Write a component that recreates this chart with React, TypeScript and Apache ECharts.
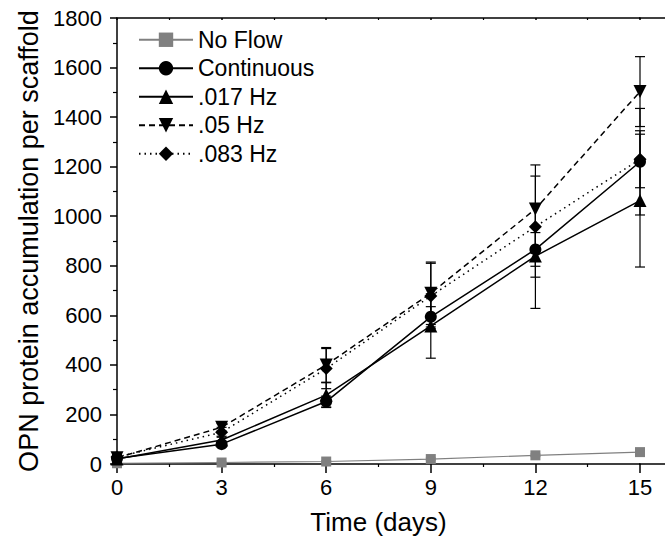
import React, { useEffect, useRef } from "react";
import * as echarts from "echarts";

const days = [0, 3, 6, 9, 12, 15];
const xTicks = ["0", "3", "6", "9", "12", "15"];

const noFlow = [3, 6, 10, 20, 35, 48];
const noFlowErr = [2, 2, 3, 4, 5, 6];
const continuous = [22, 80, 252, 594, 866, 1220];
const continuousErr = [8, 12, 22, 41, 68, 215];
const hz017 = [20, 97, 278, 557, 839, 1063];
const hz017Err = [8, 15, 50, 130, 211, 268];
const hz05 = [25, 148, 400, 689, 1029, 1503];
const hz05Err = [10, 15, 70, 126, 178, 141];
const hz083 = [28, 128, 385, 678, 958, 1230];
const hz083Err = [10, 20, 81, 132, 204, 115];

const FONT = "Liberation Sans, Arial, sans-serif";
const GRID_LEFT = 117;
const GRID_TOP = 18;
const GRID_RIGHT = 25;
const GRID_BOTTOM = 84;
const W = 665;
const H = 548;

type Spec = {
  name: string;
  values: number[];
  errs: number[];
  symbol: string;
  size: number;
  color: string;
  lineType: any;
  lineWidth: number;
  rotate?: number;
};

const specs: Spec[] = [
  { name: "No Flow", values: noFlow, errs: noFlowErr, symbol: "rect", size: 10, color: "#808080", lineType: "solid", lineWidth: 1.2 },
  { name: "Continuous", values: continuous, errs: continuousErr, symbol: "circle", size: 12, color: "#000000", lineType: "solid", lineWidth: 1.5 },
  { name: ".017 Hz", values: hz017, errs: hz017Err, symbol: "triangle", size: 13, color: "#000000", lineType: "solid", lineWidth: 1.5 },
  { name: ".05 Hz", values: hz05, errs: hz05Err, symbol: "triangle", size: 13, color: "#000000", lineType: [6, 4], lineWidth: 1.5, rotate: 180 },
  { name: ".083 Hz", values: hz083, errs: hz083Err, symbol: "diamond", size: 13, color: "#000000", lineType: [1.5, 4], lineWidth: 1.5 },
];

export default function App() {
  const ref = useRef<HTMLDivElement>(null);
  useEffect(() => {
    if (!ref.current) return;
    const chart = echarts.init(ref.current, undefined, { renderer: "svg" });

    const series: any[] = [];
    specs.forEach((s) => {
      series.push({
        name: "err " + s.name,
        type: "custom",
        z: 1,
        silent: true,
        data: days.map((d, i) => [d, s.values[i], s.errs[i]]),
        renderItem: (params: any, api: any) => {
          const x = api.value(0);
          const y = api.value(1);
          const e = api.value(2);
          const hi = api.coord([x, y + e]);
          const lo = api.coord([x, y - e]);
          const half = 5;
          const st = { stroke: s.color, lineWidth: 1.2 };
          return {
            type: "group",
            children: [
              { type: "line", shape: { x1: hi[0], y1: hi[1], x2: lo[0], y2: lo[1] }, style: st },
              { type: "line", shape: { x1: hi[0] - half, y1: hi[1], x2: hi[0] + half, y2: hi[1] }, style: st },
              { type: "line", shape: { x1: lo[0] - half, y1: lo[1], x2: lo[0] + half, y2: lo[1] }, style: st },
            ],
          };
        },
      });
    });
    specs.forEach((s) => {
      series.push({
        name: s.name,
        type: "line",
        z: 3,
        data: days.map((d, i) => [d, s.values[i]]),
        symbol: s.symbol,
        symbolSize: s.size,
        symbolRotate: s.rotate || 0,
        showAllSymbol: true,
        lineStyle: { color: s.color, width: s.lineWidth, type: s.lineType },
        itemStyle: { color: s.color, borderWidth: 0 },
      });
    });

    const gridRightX = W - GRID_RIGHT;
    const gridBottomY = H - GRID_BOTTOM;

    chart.setOption({
      animation: false,
      backgroundColor: "#ffffff",
      grid: { left: GRID_LEFT, top: GRID_TOP, right: GRID_RIGHT, bottom: GRID_BOTTOM },
      legend: {
        show: true,
        data: specs.map((s) => s.name),
        orient: "vertical",
        left: 138,
        top: 28,
        padding: 0,
        itemWidth: 54,
        itemHeight: 18,
        itemGap: 5,
        textStyle: { fontFamily: FONT, fontSize: 23, color: "#000", lineHeight: 23.5, padding: [0, 0, 0, 0] },
        selectedMode: false,
      },
      xAxis: [
        {
          type: "value",
          min: 0,
          max: 15,
          interval: 3,
          position: "bottom",
          name: "Time (days)",
          nameLocation: "middle",
          nameGap: 45,
          nameTextStyle: { fontFamily: FONT, fontSize: 26, color: "#000" },
          axisLine: { show: true, lineStyle: { color: "#000", width: 1.5 } },
          axisTick: { show: true, inside: false, length: 9, lineStyle: { color: "#000", width: 1.5 } },
          minorTick: { show: true, splitNumber: 2, length: 3, lineStyle: { color: "#000", width: 1.2 } },
          axisLabel: {
            fontFamily: FONT,
            fontSize: 22,
            color: "#000",
            margin: 12,
            formatter: (v: number) => {
              const i = days.indexOf(v);
              return i >= 0 ? xTicks[i] : "";
            },
          },
          splitLine: { show: false },
        },
        {
          type: "value",
          min: 0,
          max: 15,
          interval: 3,
          position: "top",
          axisLine: { show: true, lineStyle: { color: "#000", width: 1.5 } },
          axisTick: { show: true, inside: true, length: 2, lineStyle: { color: "#000", width: 1.5 } },
          minorTick: { show: true, splitNumber: 2, length: 2, lineStyle: { color: "#000", width: 1.2 } },
          axisLabel: { show: false },
          splitLine: { show: false },
        },
      ],
      yAxis: [
        {
          type: "value",
          min: 0,
          max: 1800,
          interval: 200,
          name: "OPN protein accumulation per scaffold",
          nameLocation: "middle",
          nameGap: 71,
          nameTextStyle: { fontFamily: FONT, fontSize: 27, color: "#000" },
          axisLine: { show: true, lineStyle: { color: "#000", width: 1.5 } },
          axisTick: { show: true, inside: false, length: 7, lineStyle: { color: "#000", width: 1.5 } },
          minorTick: { show: true, splitNumber: 2, length: 4, lineStyle: { color: "#000", width: 1.2 } },
          axisLabel: {
            fontFamily: FONT,
            fontSize: 22,
            color: "#000",
            margin: 15,
            formatter: (v: number) => String(v),
          },
          splitLine: { show: false },
        },
      ],
      graphic: [
        { type: "line", shape: { x1: gridRightX - 1, y1: GRID_TOP, x2: W, y2: GRID_TOP }, style: { stroke: "#000", lineWidth: 1.5 } },
        { type: "line", shape: { x1: gridRightX - 1, y1: gridBottomY, x2: W, y2: gridBottomY }, style: { stroke: "#000", lineWidth: 1.5 } },
      ],
      series,
    });
    return () => chart.dispose();
  }, []);
  return <div ref={ref} style={{ width: W, height: H, position: "absolute", left: 0, top: 0 }} />;
}
